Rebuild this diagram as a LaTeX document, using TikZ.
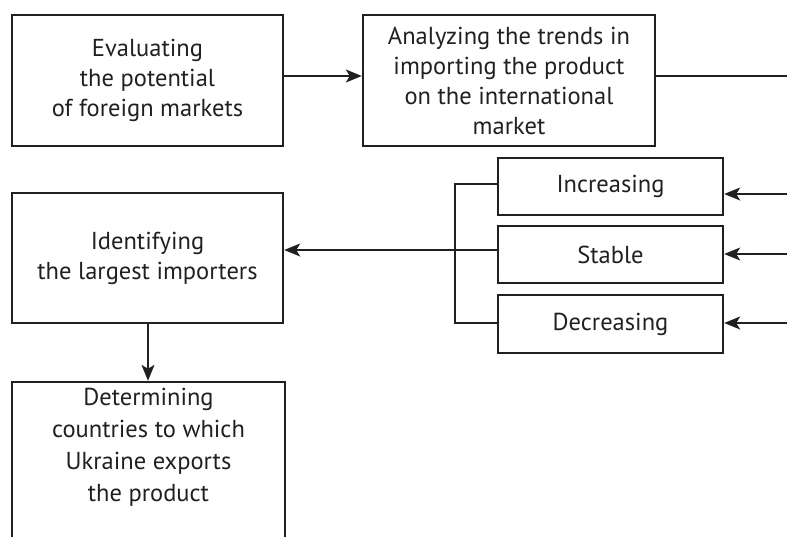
\documentclass[tikz,border=0pt]{standalone}
\usepackage{fontspec}
\setmainfont{PT Sans}
\usetikzlibrary{arrows.meta}
\definecolor{ink}{RGB}{35,31,32}
\begin{document}
\begin{tikzpicture}[x=1pt,y=-1pt,
  box/.style={draw=ink, line width=2.4pt, text=ink, align=center, inner sep=0pt, font=\fontsize{24.5}{30}\selectfont},
  txt/.style={text=ink, align=center, inner sep=0pt, font=\fontsize{24.5}{32}\selectfont},
  conn/.style={draw=ink, line width=1.3pt},
  arr/.style={conn, -{Stealth[length=16pt,width=13pt,inset=4pt]}}]
\useasboundingbox (0,0) rectangle (787,536);
\clip (0,0) rectangle (787,536);
\node[box, minimum width=271pt, minimum height=131pt] (b1) at (147.5,80.5) {Evaluating\\the potential\\of foreign markets};
\node[box, minimum width=292pt, minimum height=131pt] (b2) at (509,80.5) {Analyzing the trends in\\importing the product\\on the international\\market};
\node[box, minimum width=271pt, minimum height=130pt] (b3) at (147.5,258) {Identifying\\the largest importers};
\node[box, minimum width=273pt, minimum height=218pt] (b4) at (148.5,491) {};
\node[txt] (t4) at (148.5,447) {Determining\\countries to which\\Ukraine exports\\the product};
\node[box, minimum width=225pt, minimum height=57pt] (inc) at (610.5,186.5) {Increasing};
\node[box, minimum width=225pt, minimum height=57pt] (stab) at (610.5,254.5) {Stable};
\node[box, minimum width=225pt, minimum height=58pt] (dec) at (610.5,324) {Decreasing};
% helper coordinates
\coordinate (y76) at (0,76);
\coordinate (r0) at (787,76);
\coordinate (ri) at (787,194);
\coordinate (rs) at (787,254);
\coordinate (rd) at (787,323);
\coordinate (bt) at (455,184);
\coordinate (bb) at (455,323);
\coordinate (bm) at (0,250);
\coordinate (xd) at (148,0);
% connectors
\draw[arr] (b1.east |- y76) -- (b2.west |- y76);
\draw[conn] (b2.east |- y76) -- (r0);
\draw[arr] (ri) -- (inc.east |- ri);
\draw[arr] (rs) -- (stab.east |- rs);
\draw[arr] (rd) -- (dec.east |- rd);
\draw[conn] (inc.west |- bt) -- (bt) -- (bb) -- (dec.west |- bb);
\draw[arr] (stab.west |- bm) -- (b3.east |- bm);
\draw[arr] (b3.south -| xd) -- (b4.north -| xd);
\end{tikzpicture}
\end{document}
